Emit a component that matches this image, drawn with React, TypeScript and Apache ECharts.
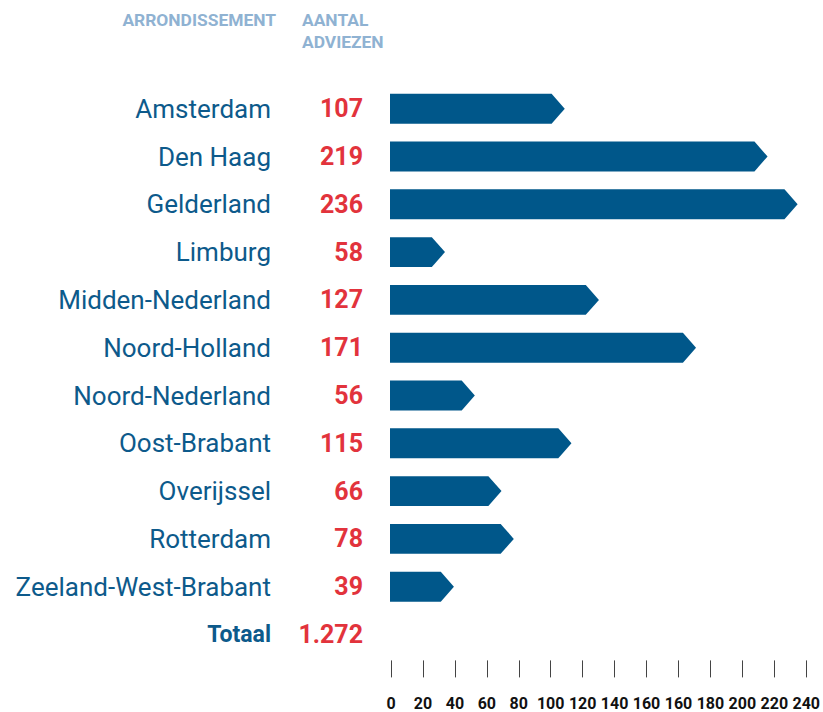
import React, { useEffect, useRef } from "react";
import * as echarts from "echarts";

// ---- data ----
const categories = [
  "Amsterdam",
  "Den Haag",
  "Gelderland",
  "Limburg",
  "Midden-Nederland",
  "Noord-Holland",
  "Noord-Nederland",
  "Oost-Brabant",
  "Overijssel",
  "Rotterdam",
  "Zeeland-West-Brabant",
];
const adviezen = [107, 219, 236, 58, 127, 171, 56, 115, 66, 78, 39];
const totalLabel = "Totaal";
const totalValue = "1.272";
// printed tick labels (the reference repeats 160)
const tickLabels = ["0", "20", "40", "60", "80", "100", "120", "140", "160", "160", "180", "200", "220", "240"];
// bar tip positions as drawn, in axis-position units (tick i = i*20)
const barEnds = [108.8, 235.8, 254.6, 33.8, 130.2, 191.0, 52.5, 113.0, 69.2, 76.9, 39.4];

const headerName = "ARRONDISSEMENT";
const headerValue1 = "AANTAL";
const headerValue2 = "ADVIEZEN";

const DARK_BLUE = "#00578a";
const TEXT_BLUE = "#0d5a8b";
const RED = "#e2333c";
const LIGHT_BLUE = "#8fb2d2";
const FONT = "Roboto";

export default function App() {
  const ref = useRef<HTMLDivElement>(null);

  useEffect(() => {
    if (!ref.current) return;
    const chart = echarts.init(ref.current, null, { renderer: "svg" });

    const nameData: any[] = categories.map((c) => c);
    nameData.push({ value: totalLabel, textStyle: { fontWeight: "bold", fontSize: 23 } });
    const valueData: any[] = adviezen.map((v) => String(v));
    valueData.push({ value: totalValue, textStyle: { fontSize: 25 } });

    const step = tickLabels.length - 1;

    const option: any = {
      animation: false,
      grid: { left: 391, right: 16, top: 84.8, height: 573.6, containLabel: false },
      xAxis: {
        type: "value",
        min: 0,
        max: step * 20,
        interval: 20,
        offset: 2,
        axisLine: { show: false },
        axisTick: { show: true, length: 17, lineStyle: { color: "#444", width: 1 } },
        splitLine: { show: false },
        axisLabel: {
          margin: 35,
          fontFamily: FONT,
          fontWeight: "bold",
          fontSize: 16,
          color: "#111",
          formatter: (v: number) => tickLabels[Math.round(v / 20)] ?? "",
        },
      },
      yAxis: [
        {
          type: "category",
          inverse: true,
          position: "left",
          data: nameData,
          axisLine: { show: false },
          axisTick: { show: false },
          splitLine: { show: false },
          axisLabel: {
            margin: 120,
            fontFamily: FONT,
            fontSize: 26,
            color: TEXT_BLUE,
            align: "right",
          },
        },
        {
          type: "category",
          inverse: true,
          position: "left",
          data: valueData,
          axisLine: { show: false },
          axisTick: { show: false },
          splitLine: { show: false },
          axisLabel: {
            margin: 28,
            fontFamily: FONT,
            fontSize: 25,
            fontWeight: "bold",
            color: RED,
            align: "right",
          },
        },
      ],
      series: [
        {
          type: "custom",
          yAxisIndex: 0,
          data: barEnds.map((v, i) => [v, i]),
          encode: { x: 0, y: 1 },
          renderItem: (params: any, api: any) => {
            const end = api.value(0);
            const idx = api.value(1);
            const p0 = api.coord([0, idx]);
            const p1 = api.coord([end, idx]);
            const band = api.size([0, 1])[1];
            const h = band * 0.625;
            const tip = h * 0.44;
            const x0 = p0[0] - 1;
            const x1 = p1[0];
            const y = p0[1];
            return {
              type: "polygon",
              shape: {
                points: [
                  [x0, y - h / 2],
                  [x1 - tip, y - h / 2],
                  [x1, y],
                  [x1 - tip, y + h / 2],
                  [x0, y + h / 2],
                ],
              },
              style: { fill: DARK_BLUE },
            };
          },
        },
      ],
      graphic: [
        {
          type: "text",
          right: 823 - 276,
          top: 11,
          style: {
            text: headerName,
            font: `bold 17.4px ${FONT}`,
            fill: LIGHT_BLUE,
          },
        },
        {
          type: "text",
          left: 302,
          top: 11,
          style: {
            text: headerValue1,
            font: `bold 17.4px ${FONT}`,
            fill: LIGHT_BLUE,
          },
        },
        {
          type: "text",
          left: 302,
          top: 33,
          style: {
            text: headerValue2,
            font: `bold 17.4px ${FONT}`,
            fill: LIGHT_BLUE,
          },
        },
      ],
    };

    chart.setOption(option);
    return () => chart.dispose();
  }, []);

  return (
    <div
      ref={ref}
      style={{ position: "fixed", left: 0, top: 0, width: 823, height: 712, background: "#fff" }}
    />
  );
}
